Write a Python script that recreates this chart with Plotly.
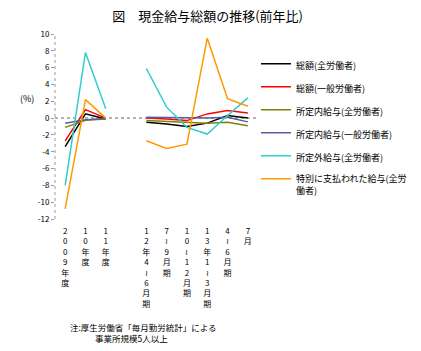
import plotly.graph_objects as go

# ---- data ----
categories = ["2009年度", "10年度", "11年度", " ", "12年4～6月期", "7～9月期",
              "10～12月期", "13年1～3月期", "4～6月期", "7月"]
tick_labels = ["2<br>0<br>0<br>9<br>年<br>度",
               "1<br>0<br>年<br>度",
               "1<br>1<br>年<br>度",
               "",
               "1<br>2<br>年<br>4<br>≀<br>6<br>月<br>期",
               "7<br>≀<br>9<br>月<br>期",
               "1<br>0<br>≀<br>1<br>2<br>月<br>期",
               "1<br>3<br>年<br>1<br>≀<br>3<br>月<br>期",
               "4<br>≀<br>6<br>月<br>期",
               "7<br>月"]

total_all = [-3.4, 0.5, -0.1, None, -0.5, -0.7, -1.0, -0.6, 0.3, 0.0]
total_general = [-2.7, 1.0, 0.0, None, 0.0, -0.1, -0.3, 0.5, 0.9, 0.6]
scheduled_all = [-1.1, -0.25, -0.1, None, -0.3, -0.4, -0.5, -0.6, -0.5, -0.9]
scheduled_general = [-0.6, -0.2, -0.05, None, 0.1, 0.05, 0.0, 0.0, 0.1, -0.45]
overtime_all = [-8.0, 7.8, 1.1, None, 5.9, 1.3, -1.1, -1.9, 0.3, 2.4]
special_all = [-10.8, 2.2, 0.0, None, -2.7, -3.6, -3.1, 9.5, 2.3, 1.4]

series_names = ["総額(全労働者)", "総額(一般労働者)", "所定内給与(全労働者)",
                "所定内給与(一般労働者)", "所定外給与(全労働者)",
                "特別に支払われた給与(全労<br>働者)"]
series_values = [total_all, total_general, scheduled_all, scheduled_general,
                 overtime_all, special_all]
series_colors = ["#000000", "#ff0000", "#808000", "#5a5aa8", "#33cccc", "#ff9900"]

y_ticks = [10, 8, 6, 4, 2, 0, -2, -4, -6, -8, -10, -12]
y_tick_labels = ["10", "8", "6", "4", "2", "0", "-2", "-4", "-6", "-8", "-10", "-12"]

FONT = "Noto Sans CJK JP"

fig = go.Figure()
for name, vals, col in zip(series_names, series_values, series_colors):
    fig.add_trace(go.Scatter(x=categories, y=vals, mode="lines", name=name,
                             legendgroup=name, connectgaps=False,
                             line=dict(color=col, width=1.5)))

fig.update_layout(
    width=421, height=351,
    margin=dict(l=55, r=163, t=34, b=132, autoexpand=False),
    paper_bgcolor="white", plot_bgcolor="white",
    font=dict(family=FONT, size=9, color="black"),
    title=dict(text="図　現金給与総額の推移(前年比)", x=0.493, xref="container",
               y=1 - 16 / 351, yref="container", xanchor="center", yanchor="middle",
               font=dict(family=FONT, size=13, color="black")),
    showlegend=True,
    legend=dict(x=0.99, xanchor="left", y=0.906, yanchor="top",
                font=dict(family=FONT, size=9, color="black"),
                tracegroupgap=4, traceorder="grouped", valign="top",
                itemwidth=30, bgcolor="rgba(0,0,0,0)"),
    xaxis=dict(type="category", categoryorder="array", categoryarray=categories,
               range=[-0.5, len(categories) - 0.5],
               tickmode="array", tickvals=categories, ticktext=tick_labels,
               showline=False, showgrid=False, zeroline=False, ticks="",
               ticklabelstandoff=6,
               tickfont=dict(family=FONT, size=8, color="black"), tickangle=0),
    yaxis=dict(range=[-12, 10], tickmode="array", tickvals=y_ticks,
               ticktext=y_tick_labels, showline=False, showgrid=False,
               zeroline=False, ticks="outside", ticklen=3, tickcolor="#999999",
               tickfont=dict(family=FONT, size=8, color="black")),
    shapes=[
        dict(type="line", xref="paper", x0=0, x1=0, yref="y", y0=-12, y1=10,
             line=dict(color="#999999", width=1, dash="dot"), layer="below"),
        dict(type="line", xref="paper", x0=0, x1=1, yref="y", y0=0, y1=0,
             line=dict(color="#999999", width=1.5, dash="dot"), layer="below"),
    ],
    annotations=[
        dict(text="(%)", xref="paper", x=-0.138, yref="y", y=2.3, showarrow=False,
             xanchor="center", yanchor="middle", font=dict(family=FONT, size=9)),
        dict(text="注:厚生労働省「毎月勤労統計」による", xref="paper", x=0.064,
             yref="paper", y=-0.585, showarrow=False, xanchor="left",
             yanchor="middle", font=dict(family=FONT, size=8.5)),
        dict(text="事業所規模5人以上", xref="paper", x=0.187,
             yref="paper", y=-0.645, showarrow=False, xanchor="left",
             yanchor="middle", font=dict(family=FONT, size=8.5)),
    ],
)

fig.write_html("out.html")
